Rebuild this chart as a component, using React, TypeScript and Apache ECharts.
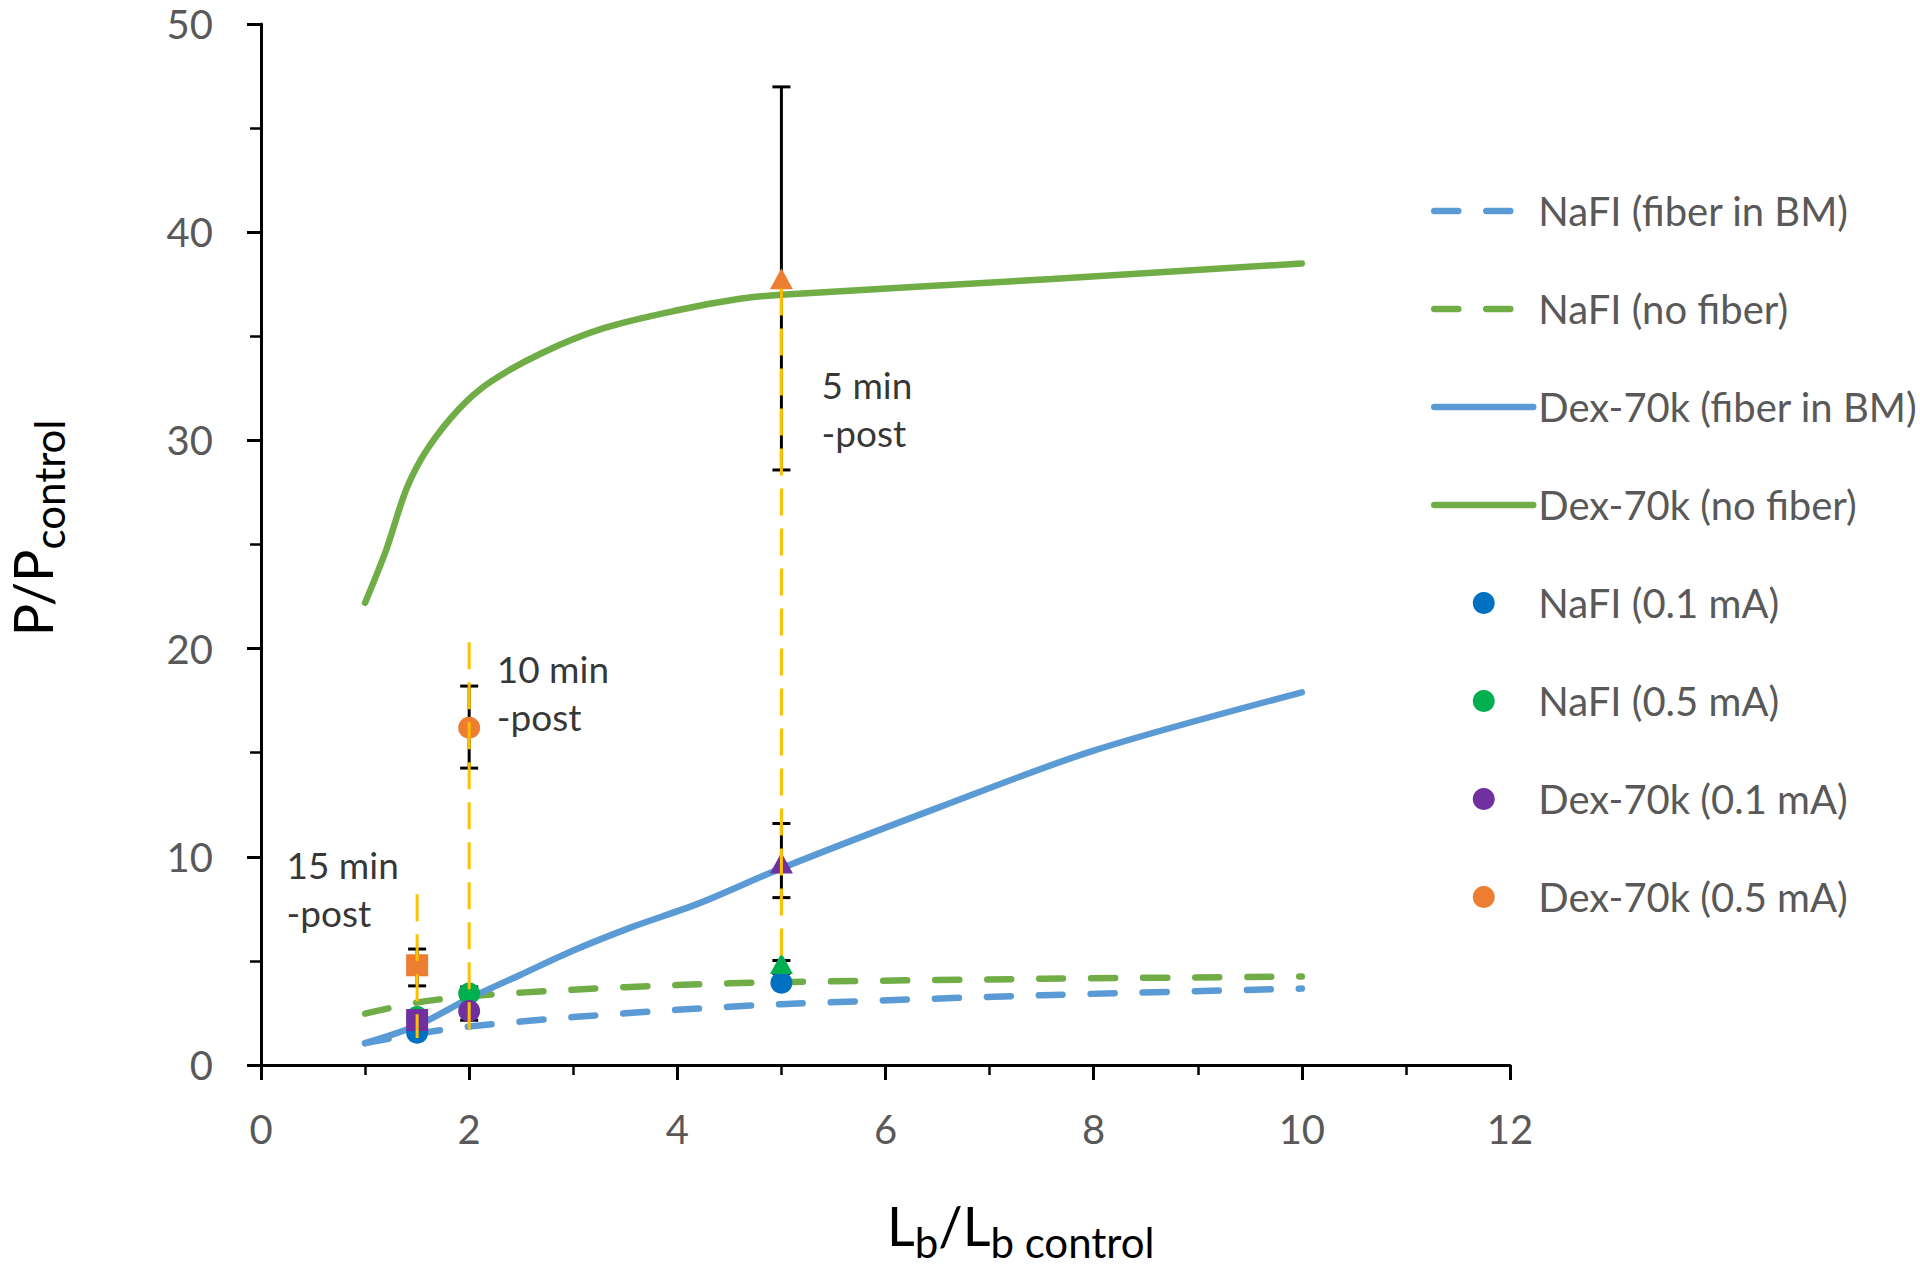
import React, { useEffect, useRef } from 'react';
import * as echarts from 'echarts';

// ---- curves (model predictions) ----
const nafiFiberX = [1, 1.5, 2, 3, 4, 5, 7.5, 10];
const nafiFiberY = [1.05, 1.5, 1.85, 2.3, 2.65, 2.92, 3.35, 3.67];
const nafiNoFiberX = [1, 1.5, 2, 3, 4, 5, 7.5, 10];
const nafiNoFiberY = [2.47, 3.0, 3.3, 3.62, 3.84, 3.98, 4.14, 4.25];
const dexFiberX = [1, 1.5, 2, 2.5, 3, 3.55, 4.2, 5, 6.5, 8, 10];
const dexFiberY = [1.05, 1.9, 3.2, 4.35, 5.5, 6.6, 7.75, 9.45, 12.35, 15.1, 17.9];
const dexNoFiberX = [1, 1.2, 1.4, 1.6, 1.9, 2.2, 2.7, 3.3, 4, 4.6, 5, 7.6, 10];
const dexNoFiberY = [22.2, 24.7, 27.7, 29.6, 31.5, 32.8, 34.2, 35.4, 36.25, 36.8, 37.0, 37.75, 38.5];

// ---- measured points ----
const nafi01Points = [[1.5, 1.55], [5, 3.95]];
const nafi01Symbols = ['circle', 'circle'];
const nafi05Points = [[1.5, 2.3], [2, 3.43], [5, 4.87]];
const nafi05Symbols = ['circle', 'circle', 'triangle'];
const dex01Points = [[1.5, 2.16], [2, 2.59], [5, 9.7]];
const dex01Symbols = ['rect', 'circle', 'triangle'];
const dex05Points = [[1.5, 4.79], [2, 16.2], [5, 37.76]];
const dex05Symbols = ['rect', 'circle', 'triangle'];

// ---- error bars [x, low, high] ----
const errorBars = [
  [1.5, 3.8, 5.57],
  [2, 14.26, 18.2],
  [2, 2.15, 3.75],
  [5, 28.58, 46.98],
  [5, 8.04, 11.6],
  [5, 4.4, 5.02],
];

// ---- post-time dashed ranges [x, low, high] ----
const postLines = [
  [1.5, 1.3, 8.2],
  [2, 1.45, 20.3],
  [5, 4.9, 37.3],
];

// ---- annotations ----
const annoLabels = ['15 min\n-post', '10 min\n-post', '5 min\n-post'];
const annoX = [0.24, 2.26, 5.38];
const annoY = [8.46, 17.9, 31.54];

const legendNames = [
  'NaFI (fiber in BM)',
  'NaFI (no fiber)',
  'Dex-70k (fiber in BM)',
  'Dex-70k (no fiber)',
  'NaFI (0.1 mA)',
  'NaFI (0.5 mA)',
  'Dex-70k (0.1 mA)',
  'Dex-70k (0.5 mA)',
];

const FONT = 'Lato';

const zip = (xs: number[], ys: number[]) => xs.map((x, i) => [x, ys[i]]);

const lineSeries = (name: string, xs: number[], ys: number[], color: string, dashed: boolean) => ({
  name,
  type: 'line',
  data: zip(xs, ys),
  smooth: 0.3,
  symbol: 'none',
  showSymbol: false,
  silent: true,
  z: 2,
  lineStyle: { color, width: 6.5, type: dashed ? [24, 28] : 'solid', cap: 'round' },
  itemStyle: { color },
});

const scatterSeries = (name: string, pts: number[][], syms: string[], color: string) => ({
  name,
  type: 'scatter',
  z: 4,
  silent: true,
  itemStyle: { color, opacity: 1 },
  data: pts.map((p, i) => ({
    value: p,
    symbol: syms[i],
    symbolSize: syms[i] === 'triangle' ? [23, 21] : 22,
  })),
});

const rangeSeries = (name: string, data: number[][], color: string, width: number, dash: number[] | null, caps: boolean, z: number) => ({
  name,
  type: 'custom',
  z,
  silent: true,
  data,
  encode: { x: 0, y: [1, 2] },
  renderItem: (_params: any, api: any) => {
    const x = api.value(0);
    const lo = api.value(1);
    const hi = api.value(2);
    const top = api.coord([x, hi]);
    const bot = api.coord([x, lo]);
    const st: any = { stroke: color, lineWidth: width };
    if (dash) st.lineDash = dash;
    const children: any[] = [
      { type: 'line', shape: { x1: top[0], y1: top[1], x2: bot[0], y2: bot[1] }, style: st },
    ];
    if (caps) {
      const hw = 9;
      children.push({ type: 'line', shape: { x1: top[0] - hw, y1: top[1], x2: top[0] + hw, y2: top[1] }, style: st });
      children.push({ type: 'line', shape: { x1: bot[0] - hw, y1: bot[1], x2: bot[0] + hw, y2: bot[1] }, style: st });
    }
    return { type: 'group', children };
  },
});

const titleRich = {
  m: { fontSize: 54, lineHeight: 40, fontFamily: FONT, color: '#000', verticalAlign: 'bottom', padding: [0, 0, 11, 0] },
  s: { fontSize: 42, lineHeight: 30, fontFamily: FONT, color: '#000', verticalAlign: 'bottom' },
};

const lineLegendItem = (name: string) => ({ name, itemStyle: { opacity: 0 } });

const option: any = {
  animation: false,
  backgroundColor: '#ffffff',
  textStyle: { fontFamily: FONT },
  grid: {
    left: 261,
    right: 410,
    top: 24,
    bottom: 205,
    containLabel: false,
    outerBoundsMode: 'none',
  },
  xAxis: {
    type: 'value',
    min: 0,
    max: 12,
    interval: 2,
    axisLine: { show: true, onZero: false, lineStyle: { color: '#000', width: 3 } },
    axisTick: { show: true, inside: false, length: 15, lineStyle: { color: '#000', width: 3 } },
    minorTick: { show: true, splitNumber: 2, length: 10, lineStyle: { color: '#000', width: 2.5 } },
    splitLine: { show: false },
    minorSplitLine: { show: false },
    axisLabel: { fontSize: 40, lineHeight: 36, color: '#595959', margin: 46, fontFamily: FONT },
  },
  yAxis: {
    type: 'value',
    min: 0,
    max: 50,
    interval: 10,
    axisLine: { show: true, onZero: false, lineStyle: { color: '#000', width: 3 } },
    axisTick: { show: true, inside: false, length: 14, lineStyle: { color: '#000', width: 3 } },
    minorTick: { show: true, splitNumber: 2, length: 11, lineStyle: { color: '#000', width: 2.5 } },
    splitLine: { show: false },
    minorSplitLine: { show: false },
    axisLabel: { fontSize: 40, lineHeight: 34, color: '#595959', margin: 48, fontFamily: FONT },
  },
  legend: {
    show: true,
    orient: 'vertical',
    left: 1431,
    top: 191,
    padding: 0,
    itemWidth: 99,
    itemHeight: 22,
    itemGap: 58,
    selectedMode: false,
    lineStyle: { width: 6.5, type: 'inherit', cap: 'round' },
    textStyle: { fontSize: 40, color: '#595959', lineHeight: 40, fontFamily: FONT },
    data: [
      lineLegendItem(legendNames[0]),
      lineLegendItem(legendNames[1]),
      lineLegendItem(legendNames[2]),
      lineLegendItem(legendNames[3]),
      { name: legendNames[4], icon: 'circle' },
      { name: legendNames[5], icon: 'circle' },
      { name: legendNames[6], icon: 'circle' },
      { name: legendNames[7], icon: 'circle' },
    ],
  },
  graphic: [
    {
      type: 'text',
      x: 887,
      y: 1243,
      silent: true,
      style: {
        text: '{m|L}{s|b}{m|/L}{s|b control}',
        rich: titleRich,
        align: 'left',
        verticalAlign: 'middle',
        textAlign: 'left',
        textVerticalAlign: 'middle',
      },
    },
    {
      type: 'text',
      x: 50,
      y: 528,
      rotation: Math.PI / 2,
      silent: true,
      style: {
        text: '{m|P/P}{s|control}',
        rich: titleRich,
        align: 'center',
        verticalAlign: 'middle',
        textAlign: 'center',
        textVerticalAlign: 'middle',
      },
    },
  ],
  series: [
    lineSeries(legendNames[0], nafiFiberX, nafiFiberY, '#5B9BD5', true),
    lineSeries(legendNames[1], nafiNoFiberX, nafiNoFiberY, '#70AD47', true),
    lineSeries(legendNames[2], dexFiberX, dexFiberY, '#5B9BD5', false),
    lineSeries(legendNames[3], dexNoFiberX, dexNoFiberY, '#70AD47', false),
    rangeSeries('error bars', errorBars, '#000000', 3, null, true, 3),
    scatterSeries(legendNames[4], nafi01Points, nafi01Symbols, '#0070C0'),
    scatterSeries(legendNames[5], nafi05Points, nafi05Symbols, '#00B050'),
    scatterSeries(legendNames[6], dex01Points, dex01Symbols, '#7030A0'),
    scatterSeries(legendNames[7], dex05Points, dex05Symbols, '#ED7D31'),
    rangeSeries('post-time range', postLines, '#FFC000', 3, [27, 13], false, 5),
    {
      name: 'annotations',
      type: 'scatter',
      z: 6,
      silent: true,
      symbolSize: 1,
      itemStyle: { color: 'rgba(0,0,0,0)' },
      label: {
        show: true,
        position: 'right',
        distance: 0,
        formatter: '{b}',
        fontSize: 37,
        lineHeight: 48,
        color: '#000',
        fontFamily: FONT,
        align: 'left',
      },
      data: annoX.map((x, i) => ({ name: annoLabels[i], value: [x, annoY[i]] })),
    },
  ],
};

const App = () => {
  const ref = useRef<HTMLDivElement>(null);
  useEffect(() => {
    if (!ref.current) return;
    const chart = echarts.init(ref.current, null, { renderer: 'svg' });
    chart.setOption(option);
    return () => {
      chart.dispose();
    };
  }, []);
  return (
    <div
      ref={ref}
      style={{ position: 'fixed', left: 0, top: 0, width: 1920, height: 1270, background: '#fff' }}
    />
  );
};

export default App;
